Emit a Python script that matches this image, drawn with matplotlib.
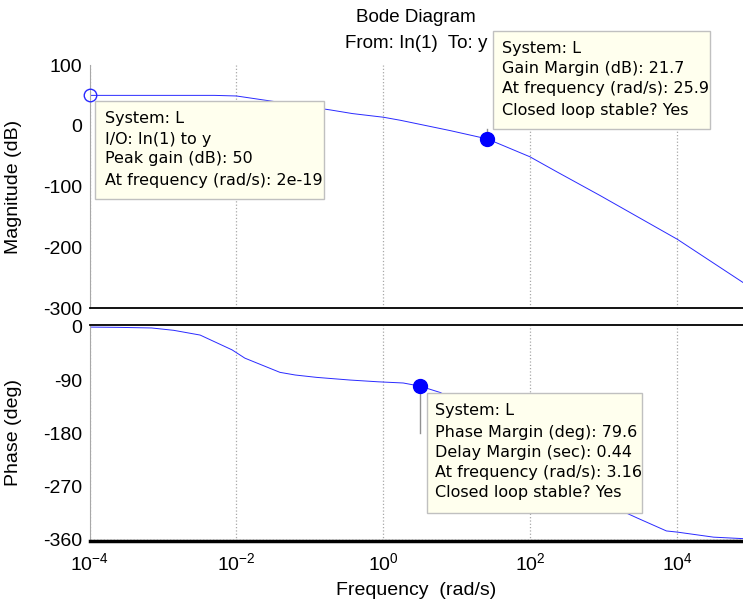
"""Bode diagram of loop L with peak gain, gain margin and phase margin data tips."""

import matplotlib
matplotlib.use("Agg")
import matplotlib.pyplot as plt
from matplotlib import font_manager
from matplotlib.patches import Rectangle

# ---- data ----
mag_freq = [1e-4, 5e-3, 1e-2, 3.2e-2, 1e-1, 1.9e-1, 3.8e-1, 1.0, 1.7, 8.1,
            25.9, 98, 230, 890, 1e4, 7.8e4]
mag_db = [50, 50, 49, 40, 31, 26, 20, 14, 9, -8,
          -21.7, -51, -76, -115, -187, -258]

phase_freq = [1e-4, 2.5e-4, 7e-4, 1.4e-3, 3.2e-3, 8.7e-3, 1.3e-2, 2.1e-2, 3.9e-2,
              6.3e-2, 0.123, 0.35, 0.85, 1.86, 3.16, 5.9, 10, 31.6, 100, 316,
              1000, 2040, 2820, 7080, 1e4, 3.1e4, 7.8e4]
phase_deg = [-0.5, -1, -2, -6, -14, -39, -53, -63.5, -77,
             -81.5, -85.5, -90, -93, -95, -100.4, -111, -125, -160, -205, -250,
             -290, -315, -323, -345, -347, -355.5, -358]

peak_db = 50
peak_freq_txt = "2e-19"
gm_db = 21.7
gm_freq = 25.9
pm_deg = 79.6
dm_sec = 0.44
pm_freq = 3.16

x_ticks = [1e-4, 1e-2, 1e0, 1e2, 1e4]
x_ticklabels = [r"$10^{-4}$", r"$10^{-2}$", r"$10^{0}$", r"$10^{2}$", r"$10^{4}$"]
mag_ticks = [100, 0, -100, -200, -300]
phase_ticks = [0, -90, -180, -270, -360]

# ---- style ----
W, H = 743, 609
names = {f.name for f in font_manager.fontManager.ttflist}
main_font = "Liberation Sans Narrow" if "Liberation Sans Narrow" in names else "Liberation Sans"
plt.rcParams.update({
    "font.family": "sans-serif",
    "font.sans-serif": [main_font],
    "font.size": 14,
    "mathtext.default": "regular",
    "axes.unicode_minus": False,
})
TIP_FONT = "DejaVu Sans"
TIP_SIZE = 11.5
LAB_SIZE = 14
GRID = "#a8a8a8"
LINE = "#2a2aff"


def fx(px):
    return px / W


def fy(py):
    return 1 - py / H


fig = plt.figure(figsize=(W / 100, H / 100), dpi=100)
ax_m = fig.add_axes([fx(89.5), fy(308), 1 - fx(89.5), (308 - 65) / H])
ax_p = fig.add_axes([fx(89.5), fy(541), 1 - fx(89.5), (541 - 325) / H])

for ax in (ax_m, ax_p):
    ax.set_xscale("log")
    ax.set_xlim(1e-4, 7.8e4)
    ax.set_xticks(x_ticks)
    ax.minorticks_off()
    ax.grid(axis="x", color=GRID, linestyle=":", linewidth=0.9)
    ax.tick_params(length=0, pad=5, labelsize=LAB_SIZE)
    ax.spines["right"].set_visible(False)
    ax.spines["left"].set_color(GRID)
    ax.set_axisbelow(True)

# magnitude
ax_m.plot(mag_freq, mag_db, color=LINE, linewidth=0.7)
ax_m.set_ylim(-300, 100)
ax_m.set_yticks(mag_ticks)
ax_m.set_xticklabels([])
ax_m.spines["top"].set_visible(False)
ax_m.spines["bottom"].set_linewidth(1.3)
ax_m.set_ylabel("Magnitude (dB)", fontsize=LAB_SIZE)
ax_m.yaxis.set_label_coords(-0.103, 0.5)

ax_m.plot([1e-4], [peak_db], marker="o", markersize=9, markerfacecolor="none",
          markeredgecolor=LINE, linestyle="none", clip_on=False, zorder=5)
ax_m.plot([gm_freq, gm_freq], [-gm_db, -5], color="#909090", linewidth=1, zorder=4)
ax_m.plot([gm_freq], [-gm_db], marker="o", markersize=10, color="#0000ff",
          linestyle="none", zorder=5)

# phase
ax_p.plot(phase_freq, phase_deg, color=LINE, linewidth=0.7)
ax_p.set_ylim(-362, 3)
ax_p.set_yticks(phase_ticks)
ax_p.set_xticklabels(x_ticklabels)
ax_p.tick_params(axis="x", pad=8)
ax_p.spines["top"].set_linewidth(1.3)
ax_p.spines["bottom"].set_linewidth(2.5)
ax_p.axhline(-360, color="black", linestyle=":", linewidth=0.9)
ax_p.set_ylabel("Phase (deg)", fontsize=LAB_SIZE)
ax_p.yaxis.set_label_coords(-0.103, 0.5)
ax_p.set_xlabel("Frequency  (rad/s)", fontsize=LAB_SIZE, labelpad=6)

ax_p.plot([pm_freq, pm_freq], [pm_deg - 180, -180], color="#909090", linewidth=1, zorder=4)
ax_p.plot([pm_freq], [pm_deg - 180], marker="o", markersize=10, color="#0000ff",
          linestyle="none", zorder=5)

# titles
fig.text(fx(416), fy(17), "Bode Diagram", ha="center", va="center", fontsize=13.5, zorder=3)
fig.text(fx(416), fy(43), "From: In(1)  To: y", ha="center", va="center",
         fontsize=13.5, zorder=3)


def data_tip(x0, y0, x1, y1, lines, text_x, line_y):
    fig.patches.append(Rectangle((fx(x0), fy(y1)), fx(x1 - x0), (y1 - y0) / H,
                                 transform=fig.transFigure, facecolor="#ffffee",
                                 edgecolor="#c0c0c0", linewidth=1, zorder=6))
    for i, s in enumerate(lines):
        fig.text(fx(text_x), fy(line_y[i]), s, ha="left", va="center",
                 family=TIP_FONT, fontsize=TIP_SIZE, zorder=7)


data_tip(95, 101, 324, 199,
         ["System: L", "I/O: In(1) to y", f"Peak gain (dB): {peak_db}",
          f"At frequency (rad/s): {peak_freq_txt}"],
         105, [119, 139, 159, 180])
data_tip(493, 31, 710, 129,
         ["System: L", f"Gain Margin (dB): {gm_db}",
          f"At frequency (rad/s): {gm_freq}", "Closed loop stable? Yes"],
         502, [48, 68, 89, 110])
data_tip(427, 393, 642, 513,
         ["System: L", f"Phase Margin (deg): {pm_deg}", f"Delay Margin (sec): {dm_sec}",
          f"At frequency (rad/s): {pm_freq}", "Closed loop stable? Yes"],
         435, [411, 432, 452, 473, 493])

fig.savefig("out.png", dpi=100)
